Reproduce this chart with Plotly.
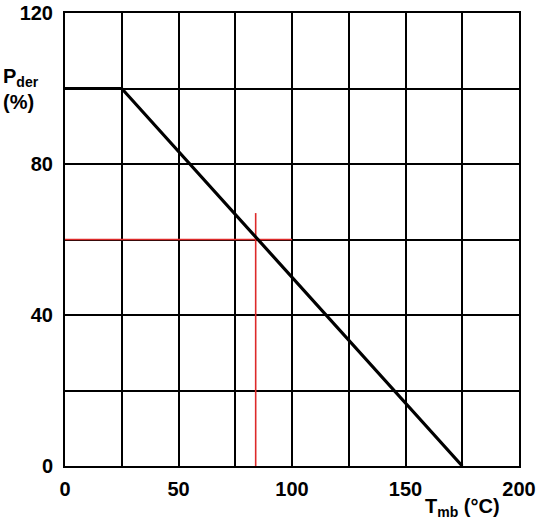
import plotly.graph_objects as go

# derating curve: P_der (%) vs T_mb (degC)
tmb = [0, 25, 175]
pder = [100, 100, 0]

# red reading guides
guide_h_x = [0, 100]
guide_h_y = [60, 60]
guide_v_x = [84, 84]
guide_v_y = [0, 67]

x_grid = [0, 25, 50, 75, 100, 125, 150, 175, 200]
x_labels = ["0", "", "50", "", "100", "", "150", "", "200"]
y_grid = [0, 20, 40, 60, 80, 100, 120]
y_labels = ["0", "", "40", "", "80", "", "120"]

font = dict(family="Liberation Sans, Arial, sans-serif", size=20, color="black")

fig = go.Figure()
fig.add_trace(go.Scatter(x=guide_h_x, y=guide_h_y, mode="lines",
                         line=dict(color="#dd2a2a", width=1.6)))
fig.add_trace(go.Scatter(x=guide_v_x, y=guide_v_y, mode="lines",
                         line=dict(color="#dd2a2a", width=1.6)))
fig.add_trace(go.Scatter(x=tmb, y=pder, mode="lines",
                         line=dict(color="black", width=3.2)))

fig.update_xaxes(range=[0, 200], tickvals=x_grid, ticktext=x_labels,
                 showgrid=True, gridcolor="black", gridwidth=1.8,
                 zeroline=False, showline=True, linecolor="black", linewidth=2,
                 mirror=True, ticks="", ticklabelstandoff=4,
                 ticklabeloverflow="allow",
                 tickfont=dict(font, weight="bold"))
fig.update_yaxes(range=[0, 120], tickvals=y_grid, ticktext=y_labels,
                 showgrid=True, gridcolor="black", gridwidth=1.8,
                 zeroline=False, showline=True, linecolor="black", linewidth=2,
                 mirror=True, ticks="", ticklabelstandoff=6,
                 ticklabeloverflow="allow",
                 tickfont=dict(font, weight="bold"))

# axis titles placed as in the datasheet figure
fig.add_annotation(text="<b>P<sub>der</sub></b>", xref="paper", yref="paper",
                   x=-0.052, y=0.857, xanchor="right", yanchor="middle",
                   showarrow=False, font=font)
fig.add_annotation(text="<b>(%)</b>", xref="paper", yref="paper",
                   x=-0.064, y=0.803, xanchor="right", yanchor="middle",
                   showarrow=False, font=font)
fig.add_annotation(text="<b>T<sub>mb</sub> (°C)</b>", xref="paper", yref="paper",
                   x=0.962, y=-0.06, xanchor="right", yanchor="top",
                   showarrow=False, font=font)

fig.update_layout(width=540, height=522, showlegend=False,
                  margin=dict(l=65, r=21, t=13, b=56, autoexpand=False),
                  plot_bgcolor="white", paper_bgcolor="white", font=font)

# drop the default 8px page margin so the figure fills the window
fig.write_html("out.html", config={"displayModeBar": False},
               post_script="document.body.style.margin='0';")
